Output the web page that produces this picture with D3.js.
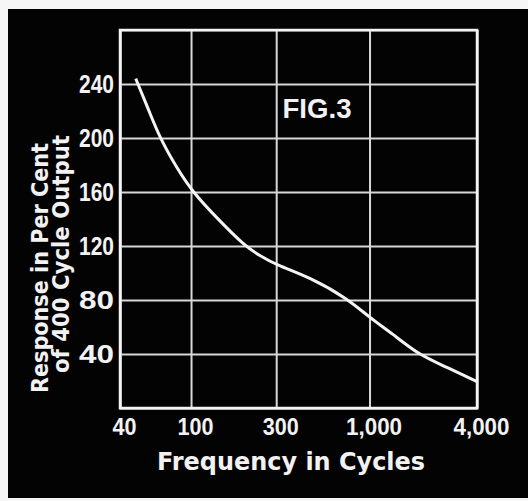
<!DOCTYPE html>
<meta charset="utf-8">
<style>
body { margin: 0; background: #f6f6f6; }
svg { display: block; }
.grid line, .grid path { stroke: #d8d8d8; stroke-width: 2px; }
.axis path, .axis line { display: none; }
.axis text { fill: #f2f2f2; font-family: "Liberation Sans", Arial, sans-serif; font-weight: bold; font-size: 23px; }
</style>
<svg width="528" height="501"></svg>
<script src="https://d3js.org/d3.v7.min.js"></script>
<script>
// frequency ticks (cycles) and their printed labels
var xTicks = [40, 100, 300, 1000, 4000];
var xLabels = ["40", "100", "300", "1,000", "4,000"];
// response ticks (per cent of 400 cycle output)
var yTicks = [40, 80, 120, 160, 200, 240];

// curve
var freq = [49, 59, 67, 83, 102, 139, 200, 242, 300, 461, 754, 1000, 1346, 1858, 2673, 4000];
var response = [244, 218, 200, 178, 160, 141, 120, 113, 106, 97, 81, 67, 55, 40, 30.5, 19.5];

var svg = d3.select("svg");

// black panel
svg.append("rect")
    .attr("x", 8).attr("y", 9)
    .attr("width", 520).attr("height", 489)
    .attr("fill", "#030303");

var x = d3.scaleLog().domain([40, 4000]).range([120, 477]);
var y = d3.scaleLinear().domain([0, 280]).range([408, 30]);

// grid
svg.append("g")
    .attr("class", "grid")
    .attr("transform", "translate(0,408)")
    .call(d3.axisBottom(x).tickValues(xTicks).tickSize(-378).tickFormat(""));
svg.append("g")
    .attr("class", "grid")
    .attr("transform", "translate(120,0)")
    .call(d3.axisLeft(y).tickValues(yTicks).tickSize(-357).tickFormat(""));

// frame
svg.append("rect")
    .attr("x", x(40)).attr("y", y(280))
    .attr("width", x(4000) - x(40)).attr("height", y(0) - y(280))
    .attr("fill", "none").attr("stroke", "#f4f4f4").attr("stroke-width", 2.5);

// tick labels
var xAxis = svg.append("g")
    .attr("class", "axis")
    .attr("transform", "translate(0,408)")
    .call(d3.axisBottom(x).tickValues(xTicks).tickSize(0).tickPadding(11)
        .tickFormat(function(d, i) { return xLabels[i]; }));
xAxis.selectAll("text")
    .attr("dx", 4)
    .attr("textLength", function(d, i) { return xLabels[i].length > 3 ? 56 : xLabels[i].length * 12; })
    .attr("lengthAdjust", "spacingAndGlyphs");

var yAxis = svg.append("g")
    .attr("class", "axis")
    .attr("transform", "translate(120,0)")
    .call(d3.axisLeft(y).tickValues(yTicks).tickSize(0).tickPadding(6));
yAxis.selectAll("text")
    .style("font-size", "25px")
    .attr("textLength", 35)
    .attr("lengthAdjust", "spacingAndGlyphs");

// response curve
var line = d3.line()
    .x(function(d, i) { return x(freq[i]); })
    .y(function(d) { return y(d); })
    .curve(d3.curveBasis);

svg.append("path")
    .datum(response)
    .attr("d", line)
    .attr("fill", "none")
    .attr("stroke", "#f4f4f4")
    .attr("stroke-width", 3);

// FIG.3
svg.append("text")
    .attr("x", 317).attr("y", 118)
    .attr("text-anchor", "middle")
    .attr("fill", "#f2f2f2")
    .attr("font-family", "Liberation Sans, Arial, sans-serif")
    .attr("font-weight", "bold")
    .attr("font-size", 28)
    .attr("textLength", 69)
    .attr("lengthAdjust", "spacingAndGlyphs")
    .text("FIG.3");

// x title
svg.append("text")
    .attr("x", 291).attr("y", 470)
    .attr("text-anchor", "middle")
    .attr("fill", "#f2f2f2")
    .attr("font-family", "DejaVu Sans, sans-serif")
    .attr("font-weight", "bold")
    .attr("font-size", 24)
    .attr("textLength", 268)
    .attr("lengthAdjust", "spacingAndGlyphs")
    .text("Frequency in Cycles");

// y title, two lines
svg.append("text")
    .attr("transform", "translate(48,268) rotate(-90)")
    .attr("text-anchor", "middle")
    .attr("fill", "#f2f2f2")
    .attr("font-family", "DejaVu Sans, sans-serif")
    .attr("font-weight", "bold")
    .attr("font-size", 23)
    .attr("textLength", 250)
    .attr("lengthAdjust", "spacingAndGlyphs")
    .text("Response in Per Cent");
svg.append("text")
    .attr("transform", "translate(69,254) rotate(-90)")
    .attr("text-anchor", "middle")
    .attr("fill", "#f2f2f2")
    .attr("font-family", "DejaVu Sans, sans-serif")
    .attr("font-weight", "bold")
    .attr("font-size", 23)
    .attr("textLength", 238)
    .attr("lengthAdjust", "spacingAndGlyphs")
    .text("of 400 Cycle Output");
</script>
